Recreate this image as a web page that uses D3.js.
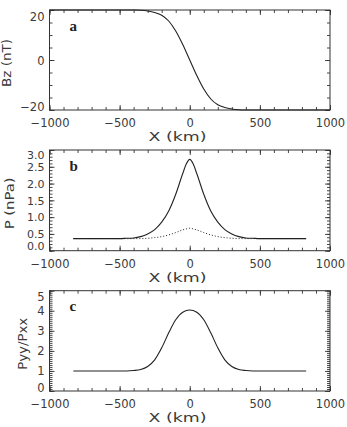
<!DOCTYPE html>
<html>
<head>
<meta charset="utf-8">
<script src="https://cdn.jsdelivr.net/npm/d3@7"></script>
<style>
  html, body { margin: 0; padding: 0; background: #fff; }
  svg { display: block; }
</style>
</head>
<body>
<svg id="chart" width="347" height="427"></svg>
<script>
// ---------------- data ----------------
const xTicks = [-1000, -500, 0, 500, 1000];

// panel a: Bz (nT) vs X (km)
const bzX = [-1000, -400, -350, -300, -250, -200, -150, -100, -50, 0, 50, 100, 150, 200, 250, 300, 350, 400, 1000];
const bzY = [20, 20, 19.9, 19.6, 19.0, 17.9, 15.6, 11.6, 6.2, 0, -6.2, -11.6, -15.6, -17.9, -19.0, -19.6, -19.9, -20, -20];
const bzTicks = [-20, 0, 20];

// panel b: P (nPa) vs X (km); solid and dotted curves
const pX = [-830, -500, -450, -400, -350, -300, -250, -200, -150, -100, -50, -25, 0, 25, 50, 100, 150, 200, 250, 300, 350, 400, 450, 500, 830];
const pSolid = [0.36, 0.36, 0.37, 0.38, 0.42, 0.50, 0.63, 0.85, 1.18, 1.68, 2.30, 2.58, 2.72, 2.58, 2.30, 1.68, 1.18, 0.85, 0.63, 0.50, 0.42, 0.38, 0.37, 0.36, 0.36];
const pDotted = [0.36, 0.36, 0.36, 0.36, 0.36, 0.37, 0.39, 0.42, 0.47, 0.54, 0.62, 0.65, 0.67, 0.65, 0.62, 0.54, 0.47, 0.42, 0.39, 0.37, 0.36, 0.36, 0.36, 0.36, 0.36];
const pTicks = [0, 0.5, 1.0, 1.5, 2.0, 2.5, 3.0];

// panel c: Pyy/Pxx vs X (km)
const rX = [-830, -450, -400, -350, -300, -250, -200, -150, -100, -50, 0, 50, 100, 150, 200, 250, 300, 350, 400, 450, 830];
const rY = [1.0, 1.0, 1.02, 1.07, 1.22, 1.55, 2.15, 2.90, 3.55, 3.93, 4.04, 3.93, 3.55, 2.90, 2.15, 1.55, 1.22, 1.07, 1.02, 1.0, 1.0];
const rTicks = [0, 1, 2, 3, 4, 5];

// ---------------- layout ----------------
const svg = d3.select("#chart");
const left = 49.5, right = 330;
const FONT = "'DejaVu Sans', sans-serif";
const TXT = "#3a3a3a";
const x = d3.scaleLinear().domain([-1000, 1000]).range([left, right]);

const panels = [
  { top: 10, bottom: 110, domain: [-20, 20], ticks: bzTicks, minorStep: 5, fmt: d => d < 0 ? "\u2212" + Math.abs(d) : String(d),
    ylabel: "Bz (nT)", ylabelX: 11, ylabelLen: 48, letter: "a", topShift: 6.5, botShift: -4, yfs: 11.5,
    series: [{ xs: bzX, ys: bzY, dash: null }] },
  { top: 150, bottom: 250.7, domain: [0, 3], ticks: pTicks, minorStep: 0.1, fmt: d3.format(".1f"),
    ylabel: "P (nPa)", ylabelX: 13.5, ylabelLen: 52, letter: "b", topShift: 4.5, botShift: -5, yfs: 11,
    series: [{ xs: pX, ys: pSolid, dash: null }, { xs: pX, ys: pDotted, dash: "1,2" }] },
  { top: 290.7, bottom: 391, domain: [0, 5], ticks: rTicks, minorStep: 0.1, fmt: d3.format("d"),
    ylabel: "Pyy/Pxx", ylabelX: 27, ylabelLen: 52, letter: "c", topShift: 6, botShift: -3.5, yfs: 11.5,
    series: [{ xs: rX, ys: rY, dash: null }] }
];

const xMinor = d3.range(-1000, 1000.1, 100);

panels.forEach(p => {
  const y = d3.scaleLinear().domain(p.domain).range([p.bottom, p.top]);
  const g = svg.append("g");
  const h = p.bottom - p.top;

  const yMinor = d3.range(p.domain[0], p.domain[1] + p.minorStep / 2, p.minorStep);

  // box
  g.append("rect").attr("x", left).attr("y", p.top)
    .attr("width", right - left).attr("height", h)
    .attr("fill", "none").attr("stroke", "#333").attr("stroke-width", 1);

  const tickStyle = sel => sel.call(s => s.select(".domain").remove())
    .call(s => s.selectAll("line").attr("stroke", "#333").attr("stroke-width", 0.9));

  // bottom axis (inward ticks)
  g.append("g").attr("transform", `translate(0,${p.bottom})`)
    .call(d3.axisBottom(x).tickValues(xMinor).tickSize(-3).tickFormat("")).call(tickStyle);
  const bx = g.append("g").attr("transform", `translate(0,${p.bottom})`)
    .call(d3.axisBottom(x).tickValues(xTicks).tickSize(-5).tickPadding(0)
      .tickFormat(d => d < 0 ? "\u2212" + Math.abs(d) : String(d))).call(tickStyle);
  bx.selectAll("text").attr("y", 13).attr("dy", "0.35em")
    .style("font-size", "11.5px").style("font-family", FONT).style("fill", TXT);

  // top axis (inward ticks, no labels)
  g.append("g").attr("transform", `translate(0,${p.top})`)
    .call(d3.axisTop(x).tickValues(xMinor).tickSize(-3).tickFormat("")).call(tickStyle);
  g.append("g").attr("transform", `translate(0,${p.top})`)
    .call(d3.axisTop(x).tickValues(xTicks).tickSize(-5).tickFormat("")).call(tickStyle);

  // left axis
  g.append("g").attr("transform", `translate(${left},0)`)
    .call(d3.axisLeft(y).tickValues(yMinor).tickSize(-3).tickFormat("")).call(tickStyle);
  const ly = g.append("g").attr("transform", `translate(${left},0)`)
    .call(d3.axisLeft(y).tickValues(p.ticks).tickSize(-5).tickPadding(5).tickFormat(p.fmt)).call(tickStyle);
  ly.selectAll("text").style("font-size", p.yfs + "px").style("font-family", FONT).style("fill", TXT)
    .attr("dy", "0.35em")
    .attr("y", (d, i, n) => {
      if (i === n.length - 1) return p.topShift;
      if (i === 0) return p.botShift;
      return 0;
    });

  // right axis
  g.append("g").attr("transform", `translate(${right},0)`)
    .call(d3.axisRight(y).tickValues(yMinor).tickSize(-3).tickFormat("")).call(tickStyle);
  g.append("g").attr("transform", `translate(${right},0)`)
    .call(d3.axisRight(y).tickValues(p.ticks).tickSize(-5).tickFormat("")).call(tickStyle);

  // curves
  p.series.forEach(s => {
    const pts = s.xs.map((xv, i) => [xv, s.ys[i]]);
    const line = d3.line().x(d => x(d[0])).y(d => y(d[1])).curve(d3.curveMonotoneX);
    g.append("path").datum(pts).attr("d", line)
      .attr("fill", "none").attr("stroke", "#222")
      .attr("stroke-width", s.dash ? 1 : 1.1)
      .attr("stroke-dasharray", s.dash);
  });

  // panel letter
  g.append("text").attr("x", 69.5).attr("y", p.top + 20.5)
    .style("font-family", "'Liberation Serif', 'Times New Roman', serif").style("font-weight", "bold")
    .style("font-size", "15px").style("fill", "#222").text(p.letter);

  // y label
  const cy = (p.top + p.bottom) / 2 + 3;
  g.append("text").attr("transform", `translate(${p.ylabelX},${cy}) rotate(-90)`)
    .attr("text-anchor", "middle")
    .style("font-size", "11.5px").style("font-family", FONT).style("fill", TXT)
    .attr("textLength", p.ylabelLen).attr("lengthAdjust", "spacingAndGlyphs")
    .text(p.ylabel);

  // x label
  g.append("text").attr("x", 177.5).attr("y", p.bottom + 31)
    .attr("text-anchor", "middle")
    .style("font-size", "11.5px").style("font-family", FONT).style("fill", TXT)
    .attr("textLength", 58).attr("lengthAdjust", "spacingAndGlyphs")
    .text("X (km)");
});
</script>
</body>
</html>
